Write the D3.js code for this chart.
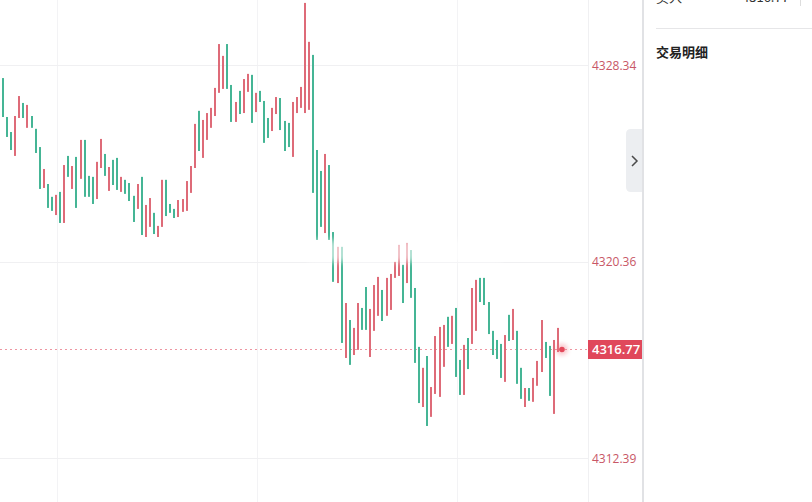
<!DOCTYPE html>
<html>
<head>
<meta charset="utf-8">
<script src="https://cdn.jsdelivr.net/npm/d3@7"></script>
<style>
  html, body { margin: 0; padding: 0; background: #fff; }
  svg { display: block; }
</style>
</head>
<body>
<div id="chart"></div>
<script>
// bar extents (price at start / end of each bar)
const opens = [
  4327.81, 4326.23, 4325.62, 4324.65, 4326.19, 4326.80, 4325.79, 4326.27, 4325.75, 4325.01,
  4323.35, 4323.51, 4322.99, 4322.25, 4323.19, 4321.93, 4324.65, 4323.31, 4324.61, 4323.72,
  4325.30, 4323.84, 4323.80, 4322.90, 4324.16, 4324.73, 4323.23, 4324.49, 4324.57, 4323.19,
  4323.68, 4323.55, 4323.03, 4322.50, 4323.80, 4321.36, 4321.77, 4322.34, 4321.36, 4321.77,
  4323.68, 4322.70, 4322.50, 4322.17, 4322.38, 4322.42, 4323.15, 4324.16, 4326.48, 4324.57,
  4325.30, 4325.79, 4326.27, 4327.21, 4327.37, 4329.19, 4327.53, 4326.03, 4327.29, 4326.39,
  4327.25, 4327.94, 4326.43, 4327.29, 4326.88, 4326.19, 4325.66, 4326.35, 4327.00, 4326.07,
  4325.99, 4324.61, 4326.39, 4326.60, 4326.39, 4326.52, 4328.75, 4324.89, 4324.04, 4321.52,
  4324.28, 4321.56, 4319.49, 4320.96, 4316.45, 4317.99, 4316.57, 4316.78, 4318.48, 4319.33,
  4316.49, 4317.55, 4318.16, 4319.21, 4318.16, 4318.40, 4319.70, 4319.78, 4320.23, 4319.49,
  4320.83, 4319.29, 4316.90, 4314.46, 4316.53, 4314.06, 4314.99, 4314.87, 4316.09, 4318.12,
  4317.02, 4318.48, 4316.37, 4314.95, 4317.26, 4317.02, 4317.55, 4319.70, 4319.70, 4318.72,
  4317.55, 4317.18, 4317.02, 4315.48, 4318.20, 4317.18, 4317.55, 4316.05, 4314.46, 4315.23,
  4314.67, 4315.32, 4315.88, 4317.10, 4316.94, 4314.18, 4316.69
]
const closes = [
  4326.23, 4325.42, 4324.89, 4326.27, 4327.08, 4326.19, 4326.72, 4325.79, 4324.77, 4323.31,
  4324.12, 4322.54, 4322.42, 4323.07, 4321.93, 4324.28, 4323.80, 4324.24, 4322.54, 4325.30,
  4322.99, 4322.99, 4322.70, 4324.41, 4325.34, 4323.84, 4324.20, 4323.47, 4323.27, 4323.80,
  4323.11, 4322.82, 4321.97, 4323.51, 4321.44, 4322.66, 4322.94, 4321.48, 4321.81, 4323.68,
  4322.21, 4322.34, 4322.13, 4322.86, 4322.90, 4323.63, 4324.24, 4325.95, 4324.85, 4326.11,
  4326.39, 4326.60, 4327.41, 4329.19, 4328.71, 4327.37, 4326.03, 4326.84, 4326.35, 4327.77,
  4327.98, 4325.99, 4327.21, 4326.84, 4325.18, 4325.38, 4326.60, 4327.04, 4325.70, 4324.85,
  4325.01, 4326.84, 4327.04, 4327.45, 4330.86, 4329.28, 4323.15, 4321.24, 4321.77, 4324.73,
  4321.24, 4319.54, 4320.96, 4317.06, 4318.68, 4316.17, 4317.67, 4318.68, 4317.59, 4317.59,
  4318.44, 4319.41, 4319.74, 4317.95, 4319.70, 4319.86, 4320.35, 4321.04, 4318.68, 4321.12,
  4318.89, 4316.25, 4314.62, 4316.05, 4313.69, 4315.27, 4317.34, 4317.71, 4317.79, 4316.90,
  4318.16, 4315.68, 4314.95, 4316.98, 4316.00, 4319.29, 4319.62, 4318.72, 4318.60, 4317.42,
  4316.57, 4316.41, 4315.64, 4317.38, 4317.14, 4318.44, 4315.40, 4314.79, 4315.23, 4314.71,
  4315.64, 4316.33, 4317.99, 4316.45, 4314.91, 4317.18, 4317.67
]
const tickValues = [4328.34, 4320.36, 4312.39]
const lastPrice = 4316.77
const panelTitle = '交易明细'
const panelTopLabel = '买入'
const panelTopValue = '4316.77'

const W = 812
const H = 502
const plotRight = 588
const panelLeft = 642

const UP = '#de6b78'
const DOWN = '#45b595'

const svg = d3.select('#chart').append('svg')
  .attr('width', W).attr('height', H)

const defs = svg.append('defs')
defs.append('clipPath').attr('id', 'plot-clip')
  .append('rect').attr('x', 0).attr('y', 0).attr('width', plotRight).attr('height', H)
defs.append('filter').attr('id', 'haze').attr('x', '-20%').attr('y', '-50%').attr('width', '140%').attr('height', '200%')
  .append('feGaussianBlur').attr('stdDeviation', 3)
defs.append('filter').attr('id', 'glow').attr('x', '-100%').attr('y', '-100%').attr('width', '300%').attr('height', '300%')
  .append('feGaussianBlur').attr('stdDeviation', 2)

// scales
const x = d3.scaleLinear().domain([0, opens.length]).range([3, 3 + opens.length * 4.08])
const y = d3.scaleLinear().domain([4312.39, 4328.34]).range([458, 65])

// grid
const grid = svg.append('g')
grid.selectAll('line.v')
  .data([57, 257, 457]).join('line')
  .attr('class', 'v')
  .attr('x1', d => d + 0.5).attr('x2', d => d + 0.5)
  .attr('y1', 0).attr('y2', H)
  .attr('stroke', '#f3f3f5')
grid.selectAll('line.h')
  .data(tickValues).join('line')
  .attr('class', 'h')
  .attr('x1', 0).attr('x2', plotRight)
  .attr('y1', d => Math.round(y(d)) + 0.5).attr('y2', d => Math.round(y(d)) + 0.5)
  .attr('stroke', '#f0f0f2')

const lineY = Math.round(y(lastPrice)) - 0.5

// last price dashed line
svg.append('line')
  .attr('x1', 0).attr('x2', plotRight)
  .attr('y1', lineY).attr('y2', lineY)
  .attr('stroke', '#ee96a2')
  .attr('stroke-dasharray', '2,3')

// bars
const plot = svg.append('g').attr('clip-path', 'url(#plot-clip)')
plot.selectAll('rect.bar')
  .data(opens.map((o, i) => ({ i, o, c: closes[i] })))
  .join('rect')
  .attr('class', 'bar')
  .attr('x', d => Math.round(x(d.i)) - 1)
  .attr('width', 2)
  .attr('y', d => y(Math.max(d.o, d.c)))
  .attr('height', d => Math.max(1, Math.abs(y(d.o) - y(d.c))))
  .attr('fill', d => d.c >= d.o ? UP : DOWN)

// blurred overlay band (faded tooltip)
plot.append('rect')
  .attr('x', 308).attr('y', 240).attr('width', 194).attr('height', 22)
  .attr('fill', '#fff').attr('opacity', 0.6)
  .attr('filter', 'url(#haze)')

// current price dot
const dotX = x(opens.length)
svg.append('circle')
  .attr('cx', dotX).attr('cy', lineY).attr('r', 6)
  .attr('fill', '#f26b7a').attr('opacity', 0.35)
  .attr('filter', 'url(#glow)')
svg.append('circle')
  .attr('cx', dotX).attr('cy', lineY).attr('r', 2.8)
  .attr('fill', '#e3485a')

// axis separator
svg.append('line')
  .attr('x1', plotRight + 0.5).attr('x2', plotRight + 0.5)
  .attr('y1', 0).attr('y2', H)
  .attr('stroke', '#f0f0f2')

// right axis labels
const axis = d3.axisRight(y).tickValues(tickValues).tickSize(0).tickPadding(0)
  .tickFormat(d3.format('.2f'))
const axisG = svg.append('g')
  .attr('transform', `translate(${plotRight + 4},0)`)
  .call(axis)
axisG.select('.domain').remove()
axisG.selectAll('text')
  .attr('fill', '#c85766')
  .attr('font-family', '"Open Sans", "Noto Sans", sans-serif')
  .attr('font-size', 12)
  .attr('dy', '0.35em')

// last price label
const lp = svg.append('g').attr('transform', `translate(${plotRight},${lineY})`)
lp.append('rect')
  .attr('x', 0).attr('y', -9.5).attr('width', panelLeft - plotRight).attr('height', 19)
  .attr('fill', '#e0485b')
lp.append('text')
  .attr('x', 4).attr('y', 0).attr('dy', '0.36em')
  .attr('fill', '#fff')
  .attr('font-family', '"Open Sans", "Noto Sans", sans-serif')
  .attr('font-size', 13)
  .attr('font-weight', 600)
  .text(d3.format('.2f')(lastPrice))

// collapse tab
svg.append('path')
  .attr('d', 'M643,129 L631,129 Q626,129 626,134 L626,187 Q626,192 631,192 L643,192 Z')
  .attr('fill', '#eceef1')
svg.append('path')
  .attr('d', 'M632,156 L637,161 L632,166')
  .attr('fill', 'none').attr('stroke', '#4a4a4a').attr('stroke-width', 1.5)

// side panel
svg.append('rect')
  .attr('x', panelLeft).attr('y', 0).attr('width', 2).attr('height', H)
  .attr('fill', '#e1e2e5')

// header row is scrolled mostly out of view, as in the source
const panel = svg.append('g')
  .attr('font-family', '"Noto Sans CJK SC", "Noto Sans", sans-serif')
panel.append('text')
  .attr('x', 656).attr('y', 2)
  .attr('font-size', 13).attr('fill', '#333')
  .text(panelTopLabel)
panel.append('text')
  .attr('x', 742).attr('y', 2)
  .attr('font-size', 13).attr('fill', '#333')
  .text(panelTopValue)
panel.append('line')
  .attr('x1', 800.5).attr('x2', 800.5).attr('y1', 0).attr('y2', 6)
  .attr('stroke', '#ddd')
panel.append('line')
  .attr('x1', 656).attr('x2', W).attr('y1', 28.5).attr('y2', 28.5)
  .attr('stroke', '#e6e6e8')
panel.append('text')
  .attr('x', 656).attr('y', 57)
  .attr('font-size', 13).attr('font-weight', 'bold').attr('fill', '#222')
  .text(panelTitle)
</script>
</body>
</html>
